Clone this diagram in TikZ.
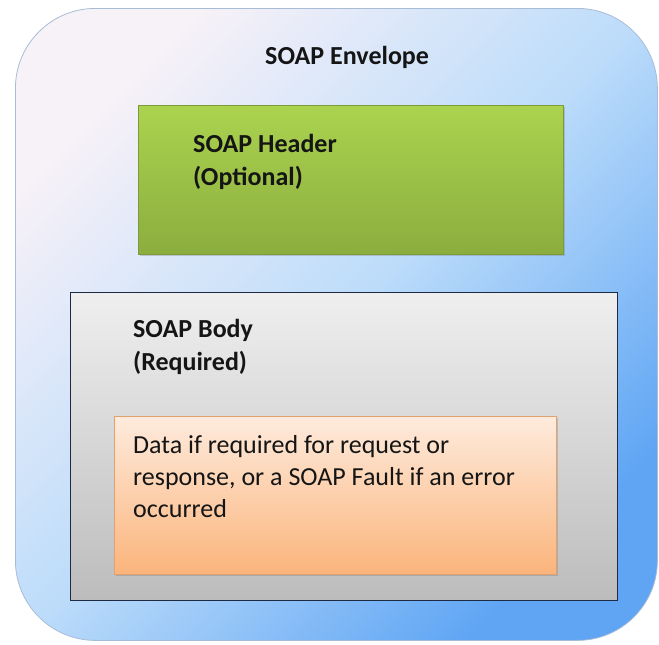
\documentclass[tikz,border=0pt]{standalone}
\usepackage{fontspec}
\setmainfont{Carlito}
\usetikzlibrary{shadows}
\definecolor{envA}{HTML}{F7F1F8}
\definecolor{envM}{HTML}{BCDCFA}
\definecolor{envB}{HTML}{5FA5F4}
\definecolor{envLine}{HTML}{A9BCD6}
\definecolor{grnA}{HTML}{ABD34F}
\definecolor{grnB}{HTML}{8BAD3E}
\definecolor{gryA}{HTML}{EFEFEF}
\definecolor{gryB}{HTML}{BCBCBC}
\definecolor{orA}{HTML}{FEEBDD}
\definecolor{orB}{HTML}{FBB47B}
\definecolor{navy}{HTML}{1C2A44}
\definecolor{txt}{HTML}{151515}
\begin{document}
\begin{tikzpicture}[x=1pt,y=-1pt,
  envbox/.style={rounded corners=80pt, draw=envLine, line width=0.8pt,
    top color=envA, bottom color=envB, middle color=envM, shading angle=45,
    anchor=north west, inner sep=0pt},
  hdrbox/.style={top color=grnA, bottom color=grnB, draw=grnB!90!black, line width=0.4pt,
    drop shadow={shadow xshift=2pt, shadow yshift=-2pt, opacity=0.35},
    anchor=north west, inner sep=0pt},
  bodybox/.style={top color=gryA, bottom color=gryB, draw=navy, line width=0.9pt,
    anchor=north west, inner sep=0pt},
  databox/.style={top color=orA, bottom color=orB, draw=orB!90!black, line width=0.4pt,
    drop shadow={shadow xshift=2pt, shadow yshift=-2pt, opacity=0.35},
    anchor=north west, inner sep=0pt},
  titletxt/.style={font=\fontsize{26}{33}\selectfont\bfseries, text=txt, inner sep=0pt},
  plaintxt/.style={font=\fontsize{26}{32}\selectfont, text=txt, inner sep=0pt, align=left}
]
\useasboundingbox (0,0) rectangle (659,645);
\node[envbox, minimum width=642pt, minimum height=632pt] (env) at (15,8) {};
\node[hdrbox, minimum width=425pt, minimum height=149pt] (hdr) at (138,105) {};
\node[bodybox, minimum width=547pt, minimum height=308pt] (body) at (70,292) {};
\node[databox, minimum width=442pt, minimum height=158pt] (data) at (114,416) {};
\node[titletxt, anchor=base west] (envtxt) at (265,64) {SOAP Envelope};
\node[titletxt, anchor=base west, align=left] (hdrtxt) at (193,185) {SOAP Header\\(Optional)};
\node[titletxt, anchor=base west, align=left] (bodytxt) at (133,370) {SOAP Body\\(Required)};
\node[plaintxt, anchor=base west] (datatxt) at (133,517) {Data if required for request or\\response, or a SOAP Fault if an error\\occurred};
\end{tikzpicture}
\end{document}
